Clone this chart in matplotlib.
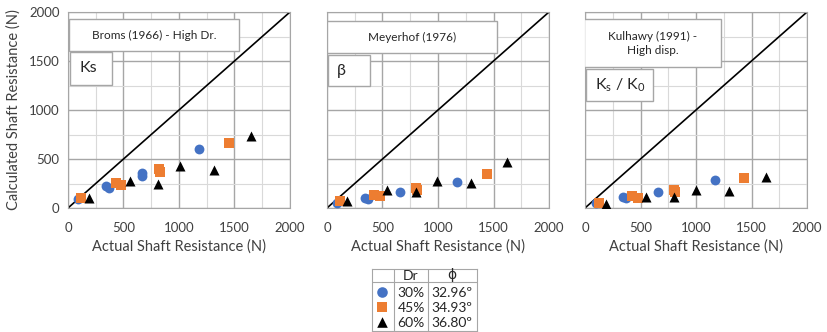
import numpy as np
import matplotlib
matplotlib.use("Agg")
import matplotlib.pyplot as plt
from matplotlib.patches import Rectangle
from matplotlib.lines import Line2D

plt.rcParams['font.family'] = ['Lato', 'DejaVu Sans']
plt.rcParams['mathtext.fontset'] = 'custom'
plt.rcParams['mathtext.rm'] = 'Lato'
plt.rcParams['mathtext.it'] = 'Lato'

# actual shaft resistance (x) and calculated (y) for each method / Dr
# Broms (1966) - Ks
broms_30_x = [90, 346, 370, 670, 670, 1182]
broms_30_y = [92, 228, 204, 357, 323, 602]
broms_45_x = [120, 436, 481, 818, 833, 1450]
broms_45_y = [99, 255, 231, 398, 364, 663]
broms_60_x = [189, 556, 812, 1008, 1314, 1645]
broms_60_y = [105, 272, 245, 425, 391, 731]

# Meyerhof (1976) - beta
mey_30_x = [90, 344, 365, 659, 1168]
mey_30_y = [51, 102, 92, 160, 269]
mey_45_x = [120, 419, 473, 799, 808, 1437]
mey_45_y = [68, 129, 119, 204, 187, 347]
mey_60_x = [180, 539, 799, 994, 1296, 1626]
mey_60_y = [75, 180, 160, 276, 255, 466]

# Kulhawy (1991) - Ks/K0
kul_30_x = [96, 343, 367, 657, 1170]
kul_30_y = [48, 109, 99, 167, 289]
kul_45_x = [125, 424, 478, 806, 815, 1433]
kul_45_y = [48, 119, 102, 180, 163, 306]
kul_60_x = [185, 552, 806, 1000, 1301, 1630]
kul_60_y = [44, 116, 109, 187, 170, 313]

dr_labels = ['30%', '45%', '60%']
phi_labels = ['32.96\u00ba', '34.93\u00ba', '36.80\u00ba']

blue = '#4472C4'
orange = '#ED7D31'
black = '#000000'

panels = [
    ("Broms (1966) - High Dr.", "Ks",
     [(broms_30_x, broms_30_y), (broms_45_x, broms_45_y), (broms_60_x, broms_60_y)],
     (0.004, 0.80, 0.765, 0.163), (0.01, 0.63, 0.19, 0.168)),
    ("Meyerhof (1976)", "\u03b2",
     [(mey_30_x, mey_30_y), (mey_45_x, mey_45_y), (mey_60_x, mey_60_y)],
     (0.0, 0.79, 0.765, 0.163), (0.005, 0.62, 0.19, 0.163)),
    ("Kulhawy (1991) -\nHigh disp.", "K$_s$ / K$_0$",
     [(kul_30_x, kul_30_y), (kul_45_x, kul_45_y), (kul_60_x, kul_60_y)],
     (-0.004, 0.717, 0.615, 0.245), (0.005, 0.545, 0.30, 0.163)),
]

fig = plt.figure(figsize=(8.28, 3.32), dpi=100)
lefts = [68, 327, 585]
styles = [('o', blue, 50), ('s', orange, 48), ('^', black, 52)]

for i, (title, tag, series, box1, box2) in enumerate(panels):
    ax = fig.add_axes([lefts[i] / 828, (332 - 208) / 332, 222 / 828, 196 / 332])
    ax.set_xlim(0, 2000)
    ax.set_ylim(0, 2000)
    ax.set_xticks(np.arange(0, 2001, 500))
    ax.set_yticks(np.arange(0, 2001, 500))
    ax.set_xticks(np.arange(0, 2001, 250), minor=True)
    ax.set_yticks(np.arange(0, 2001, 250), minor=True)
    ax.grid(which='major', color='#a6a6a6', lw=1.0)
    ax.grid(which='minor', color='#d9d9d9', lw=0.8)
    ax.set_axisbelow(True)
    ax.tick_params(which='both', length=0, labelsize=9.5, colors='#404040')
    ax.tick_params(axis='x', pad=10)
    ax.tick_params(axis='y', pad=6)
    for s in ax.spines.values():
        s.set_color('#a6a6a6')
    ax.plot([0, 2000], [0, 2000], color='black', lw=1.2, zorder=2)
    for (xs, ys), (m, c, sz) in zip(series, styles):
        ax.scatter(xs, ys, marker=m, color=c, s=sz, zorder=3, linewidths=0)
    ax.set_xlabel('Actual Shaft Resistance (N)', fontsize=10.5, color='#404040', labelpad=4)
    if i == 0:
        ax.set_ylabel('Calculated Shaft Resistance (N)', fontsize=10.5, color='#404040', labelpad=6)
    else:
        ax.set_yticklabels([])
    for (bx, by, bw, bh), txt, fs in [(box1, title, 8.5), (box2, tag, 11.5)]:
        ax.add_patch(Rectangle((bx, by), bw, bh, transform=ax.transAxes,
                               facecolor='white', edgecolor='#a6a6a6', lw=1, zorder=4))
        if txt == tag:
            ax.text(bx + 0.04, by + bh / 2, txt, transform=ax.transAxes, ha='left', va='center',
                    fontsize=fs, color='#262626', zorder=5)
        else:
            ax.text(bx + bw / 2, by + bh / 2, txt, transform=ax.transAxes, ha='center', va='center',
                    fontsize=fs, color='#262626', zorder=5, linespacing=1.3)

# legend table
lx0, lx1, ly0, ly1 = 372, 477, 269, 331
lax = fig.add_axes([lx0 / 828, (332 - ly1) / 332, (lx1 - lx0) / 828, (ly1 - ly0) / 332])
lax.set_xlim(lx0, lx1)
lax.set_ylim(ly1, ly0)
lax.set_xticks([])
lax.set_yticks([])
for s in lax.spines.values():
    s.set_color('#a6a6a6')
lax.add_line(Line2D([lx0, lx1], [282, 282], color='#a6a6a6', lw=0.8))
lax.add_line(Line2D([394, 394], [ly0, ly1], color='#a6a6a6', lw=0.8))
lax.add_line(Line2D([428, 428], [ly0, ly1], color='#a6a6a6', lw=0.8))
lax.text(411, 275.5, 'Dr', ha='center', va='center', fontsize=10, color='#262626')
lax.text(452, 275.5, '\u03d5', ha='center', va='center', fontsize=10, color='#262626',
         family=['DejaVu Sans'])
row_y = [293, 308, 323]
for y, d, p, (m, c, sz) in zip(row_y, dr_labels, phi_labels, styles):
    lax.scatter([382], [y - 1], marker=m, color=c, s=58, linewidths=0, clip_on=False)
    lax.text(411, y, d, ha='center', va='center', fontsize=10, color='#262626')
    lax.text(452, y, p, ha='center', va='center', fontsize=10, color='#262626')

fig.savefig('out.png', dpi=100)
